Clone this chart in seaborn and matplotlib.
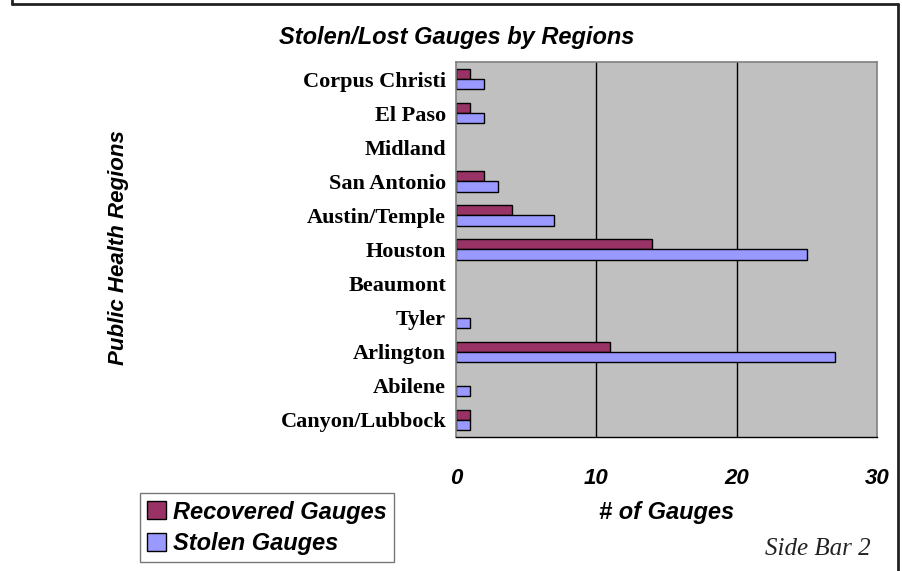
import matplotlib
matplotlib.use("Agg")
import matplotlib.pyplot as plt
import seaborn as sns
import pandas as pd
from matplotlib.lines import Line2D

# datos (de arriba hacia abajo)
regiones = ["Corpus Christi", "El Paso", "Midland", "San Antonio", "Austin/Temple",
            "Houston", "Beaumont", "Tyler", "Arlington", "Abilene", "Canyon/Lubbock"]
recuperados = [1, 1, 0, 2, 4, 14, 0, 0, 11, 0, 1]
robados = [2, 2, 0, 3, 7, 25, 0, 1, 27, 1, 1]
series = ["Recovered Gauges", "Stolen Gauges"]
colores = ["#993366", "#9999FF"]
ticks_x = [0, 10, 20, 30]

df = pd.DataFrame({
    "Region": regiones * 2,
    "Gauges": recuperados + robados,
    "Serie": [series[0]] * len(regiones) + [series[1]] * len(regiones),
})

sns.set_theme(style="white")
plt.rcParams["text.color"] = "black"
plt.rcParams["axes.labelcolor"] = "black"
plt.rcParams["xtick.color"] = "black"
plt.rcParams["ytick.color"] = "black"
SANS = "Liberation Sans"
SERIF = "Liberation Serif"
bi = dict(fontfamily=SANS, fontweight="bold", fontstyle="italic")

fig = plt.figure(figsize=(9.02, 5.71), dpi=100)
ax = fig.add_axes([0.5055, 0.2347, 0.4667, 0.6567])

sns.barplot(data=df, y="Region", x="Gauges", hue="Serie", order=regiones,
            hue_order=series, palette=colores, orient="h", width=0.6,
            edgecolor="black", linewidth=1, saturation=1, ax=ax, legend=True)

# ocultar barras de valor cero
for p in ax.patches:
    if p.get_width() == 0:
        p.set_visible(False)

ax.set_facecolor("#C0C0C0")
ax.set_xlim(0, 30)
ax.set_xticks(ticks_x)
ax.set_xticklabels([str(t) for t in ticks_x], fontsize=16, color="black", **bi)
ax.tick_params(axis="x", direction="out", length=8, width=1, color="black", pad=14)
ax.tick_params(axis="y", length=0, pad=7)
for lbl in ax.get_yticklabels():
    lbl.set_fontfamily(SERIF)
    lbl.set_fontweight("bold")
    lbl.set_fontsize(16)
    lbl.set_color("black")

for v in [10, 20]:
    ax.axvline(v, color="black", lw=1, zorder=0.5)
ax.set_axisbelow(True)

for s in ["top", "right", "left"]:
    ax.spines[s].set_color("#808080")
    ax.spines[s].set_linewidth(1.2)
ax.spines["bottom"].set_color("black")
ax.spines["bottom"].set_linewidth(1)

ax.set_xlabel("# of Gauges", fontsize=17, labelpad=9, color="black", **bi)
ax.set_ylabel("")

fig.text(0.131, 0.567, "Public Health Regions", rotation=90, ha="center", va="center",
         fontsize=16, color="black", **bi)
fig.text(0.506, 0.935, "Stolen/Lost Gauges by Regions", ha="center", va="center",
         fontsize=17, color="black", **bi)
fig.text(0.965, 0.038, "Side Bar 2", ha="right", va="center",
         fontfamily=SERIF, fontstyle="italic", fontsize=18, color="#222222")

# leyenda
ax.legend_.remove()
handles = [plt.Rectangle((0, 0), 1, 1, facecolor=c, edgecolor="black") for c in colores]
leg = fig.legend(handles, series, loc="lower left", bbox_to_anchor=(0.155, 0.016),
                 borderaxespad=0, frameon=True, fancybox=False,
                 handlelength=0.8, handleheight=0.8,
                 handletextpad=0.3, borderpad=0.3, labelspacing=0.35,
                 prop={"family": SANS, "weight": "bold", "style": "italic", "size": 17})
leg.get_frame().set_edgecolor("#555555")
leg.get_frame().set_linewidth(1)

# marco de la figura (sin borde inferior)
W, H = 902, 571
for xs, ys in [([12, 12], [0, 4]), ([12, 898], [4, 4]), ([898, 898], [4, 571])]:
    fig.add_artist(Line2D([x / W for x in xs], [1 - y / H for y in ys],
                          transform=fig.transFigure, color="#222222", lw=2))

fig.savefig("out.png", dpi=100)
